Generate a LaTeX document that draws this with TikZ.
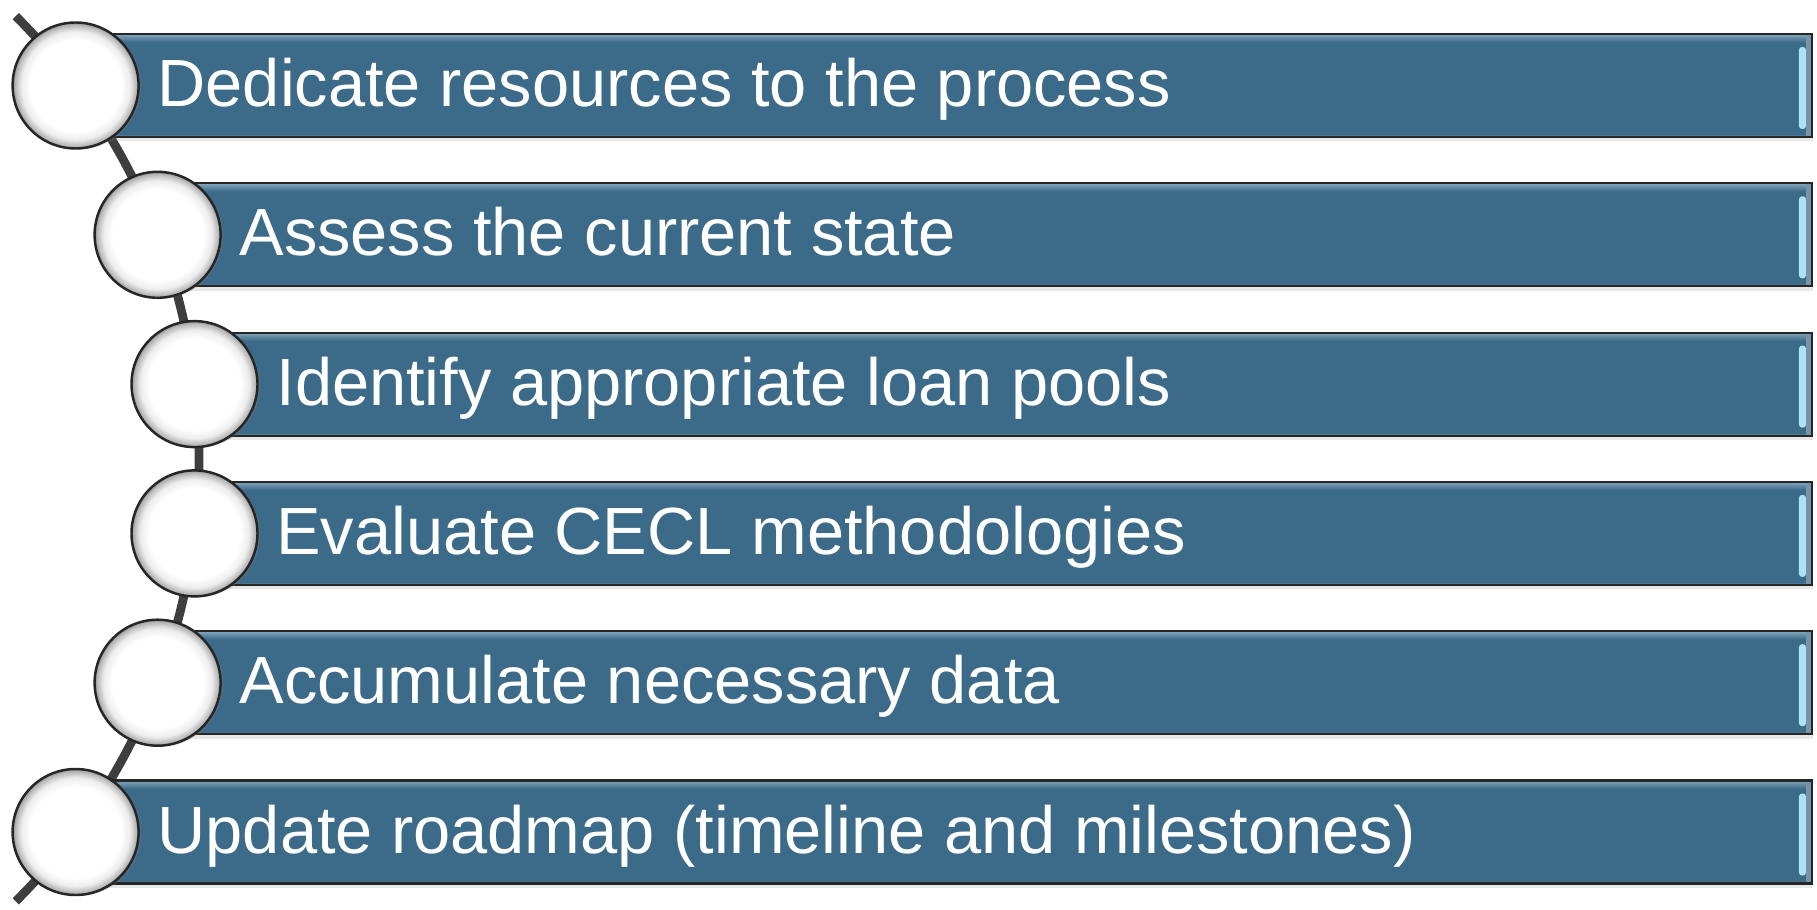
\documentclass[tikz,border=0pt]{standalone}
\usepackage{fontspec}
\setmainfont{Liberation Sans}
\usetikzlibrary{shadows}

\definecolor{barblue}{HTML}{3C6A89}
\definecolor{bartop}{HTML}{86A8BD}
\definecolor{barlow}{HTML}{6788A0}
\definecolor{barrim}{HTML}{7396AD}
\definecolor{glintblue}{HTML}{AEE1F8}
\definecolor{spinegray}{HTML}{3E3E3E}

% face of the bars: light rim on top, thin lighter rim at the bottom
\pgfdeclareverticalshading{barface}{100bp}{color(0bp)=(barlow); color(25bp)=(barlow);
	color(26.5bp)=(barblue); color(71bp)=(barblue); color(73.5bp)=(bartop!60!barblue);
	color(75bp)=(bartop); color(100bp)=(bartop)}
% glossy white beads, grey towards the rim
\pgfdeclareradialshading{bead}{\pgfpoint{0bp}{0bp}}{color(0bp)=(white); color(18bp)=(white);
	color(21.5bp)=(black!7); color(24bp)=(black!28); color(25bp)=(black!42); color(50bp)=(black!42)}

\tikzset{
	spine/.style={draw=spinegray, line width=2.5pt},
	bar/.style={rectangle, draw=black!85, line width=0.6pt, minimum height=1.03cm, inner sep=0pt,
		shading=barface, anchor=east,
		drop shadow={shadow xshift=0.01cm, shadow yshift=-0.045cm, opacity=0.18},
		path picture={
			\fill[barrim] ([xshift=-0.06cm]path picture bounding box.north east) rectangle (path picture bounding box.south east);
			\fill[glintblue, rounded corners=0.03cm] ([xshift=-0.13cm, yshift=-0.13cm]path picture bounding box.north east)
				rectangle ([xshift=-0.06cm, yshift=0.08cm]path picture bounding box.south east);
		}},
	bead/.style={circle, draw=black!85, line width=0.7pt, minimum size=1.26cm, inner sep=0pt, shading=bead,
		drop shadow={shadow xshift=0.025cm, shadow yshift=-0.01cm, opacity=0.35}},
	txt/.style={text=white, font=\fontsize{19pt}{22pt}\selectfont, inner sep=0pt, anchor=base west}
}

\begin{document}
\begin{tikzpicture}
		\useasboundingbox (0, 0) rectangle (18.17, -9.10);
		% the arc the beads sit on
		\coordinate (spinetop) at (0.157, -0.161);
		\draw[spine] (spinetop) arc [start angle=45, end angle=-45, radius=6.26cm];
		\node[bar, minimum width=17.374cm] (b1) at (18.13, -0.855) {};
		\node[bar, minimum width=16.554cm] (b2) at (18.13, -2.348) {};
		\node[bar, minimum width=16.185cm] (b3) at (18.13, -3.841) {};
		\node[bar, minimum width=16.185cm] (b4) at (18.13, -5.334) {};
		\node[bar, minimum width=16.554cm] (b5) at (18.13, -6.827) {};
		\node[bar, minimum width=17.374cm] (b6) at (18.13, -8.320) {};
		\node[bead] (c1) at (0.756, -0.855) {};
		\node[bead] (c2) at (1.576, -2.348) {};
		\node[bead] (c3) at (1.945, -3.841) {};
		\node[bead] (c4) at (1.945, -5.334) {};
		\node[bead] (c5) at (1.576, -6.827) {};
		\node[bead] (c6) at (0.756, -8.320) {};
		\node[txt] (t1) at ([xshift=0.17cm, yshift=-0.21cm]c1.east) {Dedicate resources to the process};
		\node[txt] (t2) at ([xshift=0.17cm, yshift=-0.21cm]c2.east) {Assess the current state};
		\node[txt] (t3) at ([xshift=0.17cm, yshift=-0.21cm]c3.east) {Identify appropriate loan pools};
		\node[txt] (t4) at ([xshift=0.17cm, yshift=-0.21cm]c4.east) {Evaluate CECL methodologies};
		\node[txt] (t5) at ([xshift=0.17cm, yshift=-0.21cm]c5.east) {Accumulate necessary data};
		\node[txt] (t6) at ([xshift=0.17cm, yshift=-0.21cm]c6.east) {Update roadmap (timeline and milestones)};
	\end{tikzpicture}
\end{document}
